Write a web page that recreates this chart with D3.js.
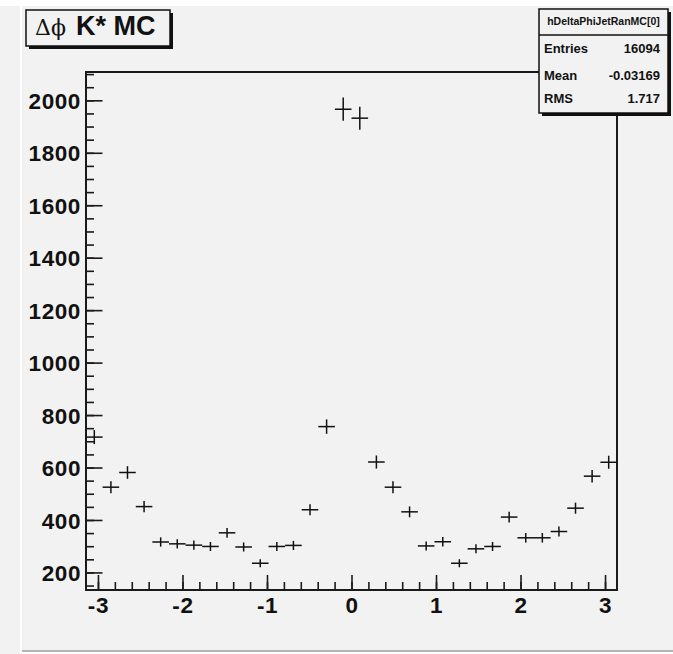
<!DOCTYPE html>
<html>
<head>
<meta charset="utf-8">
<script src="https://cdn.jsdelivr.net/npm/d3@7"></script>
<style>
  html, body { margin: 0; padding: 0; background: #f2f2f2; }
  svg { display: block; }
  text { font-family: "Liberation Sans", Arial, Helvetica, sans-serif; }
</style>
</head>
<body>
<svg id="chart" width="673" height="654"></svg>
<script>
// Histogram range: delta-phi in radians, 32 equal bins
const phiMin = -Math.PI;
const phiMax = Math.PI;
const nBins = 32;

// Bin contents (entries per bin), left to right
const counts = [716, 525, 581, 451, 316, 309, 304, 299, 351, 297, 235, 299, 303, 439, 756, 1966,
                1932, 621, 525, 431, 301, 317, 235, 290, 299, 411, 332, 332, 356, 445, 567, 620];

// Axis ticks
const yMajorTicks = [200, 400, 600, 800, 1000, 1200, 1400, 1600, 1800, 2000];
const yMinorTicks = d3.range(150, 2101, 50);
const xMajorTicks = [-3, -2, -1, 0, 1, 2, 3];
const xMinorTicks = d3.range(-3, 3.01, 0.2).map(v => +v.toFixed(2));

// Stats box content
const histName = "hDeltaPhiJetRanMC[0]";
const statLabels = ["Entries", "Mean", "RMS"];
const statValues = ["16094", "-0.03169", "1.717"];

const title = { symbol: "\u0394\u03d5", rest: "K* MC" };

const svg = d3.select("#chart");

// canvas edges
svg.append("rect").attr("x", 0).attr("y", 0).attr("width", 673).attr("height", 654).attr("fill", "#f2f2f2");
svg.append("rect").attr("x", 0).attr("y", 0).attr("width", 673).attr("height", 6).attr("fill", "#ffffff");
svg.append("rect").attr("x", 20).attr("y", 0).attr("width", 2).attr("height", 654).attr("fill", "#ffffff");
svg.append("rect").attr("x", 22).attr("y", 650).attr("width", 651).attr("height", 2).attr("fill", "#b4b4b4");
svg.append("rect").attr("x", 22).attr("y", 652).attr("width", 651).attr("height", 2).attr("fill", "#ffffff");

const frame = { left: 86, right: 617, top: 72, bottom: 590 };

const x = d3.scaleLinear().domain([phiMin, phiMax]).range([frame.left, frame.right]);
const y = d3.scaleLinear().domain([133, 2108]).range([frame.bottom, frame.top]);

const plainNum = d => String(d);

// y axis: major and minor ticks point into the frame
const yMinor = svg.append("g")
  .attr("transform", `translate(${frame.left},0)`)
  .call(d3.axisLeft(y).tickValues(yMinorTicks).tickSize(-8).tickFormat(""));
const yMajor = svg.append("g")
  .attr("transform", `translate(${frame.left},0)`)
  .call(d3.axisLeft(y).tickValues(yMajorTicks).tickSize(-16.5).tickPadding(5).tickFormat(plainNum));

const xMinor = svg.append("g")
  .attr("transform", `translate(0,${frame.bottom})`)
  .call(d3.axisBottom(x).tickValues(xMinorTicks).tickSize(-8).tickFormat(""));
const xMajor = svg.append("g")
  .attr("transform", `translate(0,${frame.bottom})`)
  .call(d3.axisBottom(x).tickValues(xMajorTicks).tickSize(-15).tickPadding(7).tickFormat(plainNum));

[yMinor, yMajor, xMinor, xMajor].forEach(g => {
  g.select(".domain").remove();
  g.selectAll(".tick line").attr("stroke", "#1a1a1a").attr("stroke-width", 1.6);
  g.selectAll(".tick text")
    .attr("fill", "#111")
    .attr("font-size", 22.5)
    .attr("font-weight", "bold")
    .style("letter-spacing", "0.6px");
});
yMajor.selectAll(".tick text").attr("dy", "0.36em");

// frame
svg.append("rect")
  .attr("x", frame.left).attr("y", frame.top)
  .attr("width", frame.right - frame.left).attr("height", frame.bottom - frame.top)
  .attr("fill", "none").attr("stroke", "#1a1a1a").attr("stroke-width", 2);

// histogram points drawn as error crosses (bin width horizontally, sqrt(N) vertically)
const binW = (phiMax - phiMin) / nBins;
const bins = counts.map((c, i) => ({
  lo: phiMin + i * binW,
  hi: phiMin + (i + 1) * binW,
  mid: phiMin + (i + 0.5) * binW,
  n: c,
  err: Math.sqrt(c)
}));

const pts = svg.append("g").attr("stroke", "#111").attr("stroke-width", 1.5).attr("fill", "none");
pts.selectAll("line.h").data(bins).join("line").attr("class", "h")
  .attr("x1", d => x(d.lo)).attr("x2", d => x(d.hi))
  .attr("y1", d => y(d.n)).attr("y2", d => y(d.n));
pts.selectAll("line.v").data(bins).join("line").attr("class", "v")
  .attr("x1", d => x(d.mid)).attr("x2", d => x(d.mid))
  .attr("y1", d => y(d.n - d.err)).attr("y2", d => y(d.n + d.err));

// title box
const tb = { x: 26, y: 10, w: 144, h: 36 };
svg.append("rect").attr("x", tb.x + 3).attr("y", tb.y + 3).attr("width", tb.w).attr("height", tb.h).attr("fill", "#111");
svg.append("rect").attr("x", tb.x).attr("y", tb.y).attr("width", tb.w).attr("height", tb.h)
  .attr("fill", "#f2f2f2").attr("stroke", "#111").attr("stroke-width", 1.5);
const tt = svg.append("text").attr("y", 35).attr("fill", "#111");
tt.append("tspan").attr("x", 35).attr("font-family", "'DejaVu Serif', 'Liberation Serif', serif")
  .attr("font-size", 22).text(title.symbol);
tt.append("tspan").attr("x", 76).attr("font-size", 27).attr("font-weight", "bold").text(title.rest);

// stats box
const sb = { x: 539, y: 9, w: 129, h: 104, head: 26 };
svg.append("rect").attr("x", sb.x + 3).attr("y", sb.y + 3).attr("width", sb.w).attr("height", sb.h).attr("fill", "#111");
svg.append("rect").attr("x", sb.x).attr("y", sb.y).attr("width", sb.w).attr("height", sb.h)
  .attr("fill", "#f2f2f2").attr("stroke", "#111").attr("stroke-width", 1.5);
svg.append("line").attr("x1", sb.x).attr("x2", sb.x + sb.w).attr("y1", sb.y + sb.head).attr("y2", sb.y + sb.head)
  .attr("stroke", "#111").attr("stroke-width", 1.5);
svg.append("text").attr("x", sb.x + sb.w / 2).attr("y", 25).attr("text-anchor", "middle")
  .attr("font-size", 10.5).attr("font-weight", "bold").attr("fill", "#111").text(histName);

const rowY = [53, 80, 103];
svg.append("g").selectAll("text").data(statLabels).join("text")
  .attr("x", 544).attr("y", (d, i) => rowY[i])
  .attr("font-size", 13).attr("font-weight", "bold").attr("fill", "#111").text(d => d);
svg.append("g").selectAll("text").data(statValues).join("text")
  .attr("x", 660).attr("y", (d, i) => rowY[i]).attr("text-anchor", "end")
  .attr("font-size", 13).attr("font-weight", "bold").attr("fill", "#111").text(d => d);
</script>
</body>
</html>
